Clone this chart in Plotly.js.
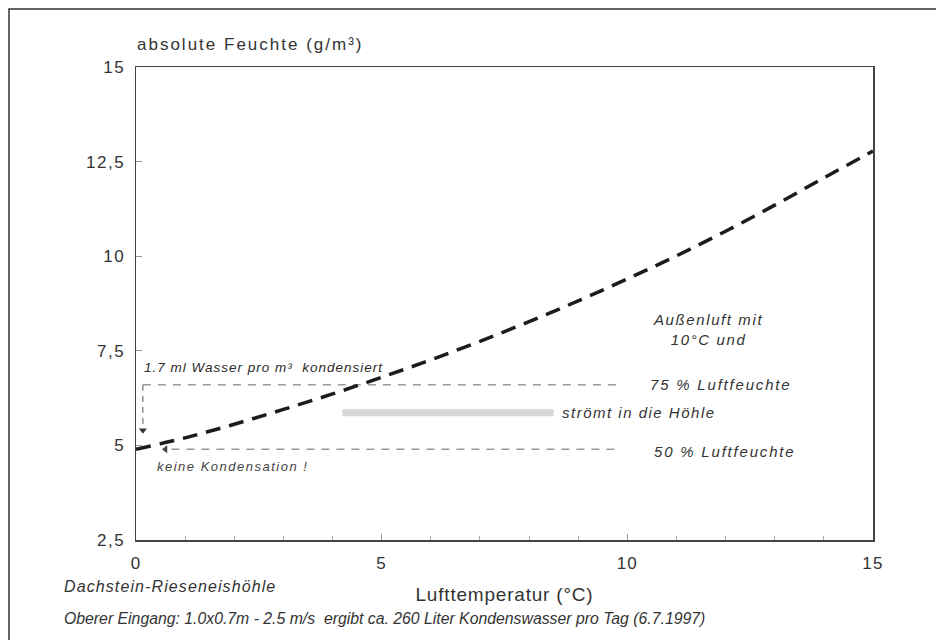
<!DOCTYPE html>
<html>
<head>
<meta charset="utf-8">
<script src="https://cdn.plot.ly/plotly-3.0.1.min.js"></script>
<style>html,body{margin:0;padding:0;background:#fff;}#chart{width:936px;height:640px;}</style>
</head>
<body>
<div id="chart"></div>
<script>
// Saturation absolute humidity (g/m³) vs air temperature (°C)
const temperature = [0,1,2,3,4,5,6,7,8,9,10,11,12,13,14,15];
const absHumidity = [4.9,5.2,5.56,5.95,6.36,6.8,7.26,7.75,8.27,8.82,9.4,10.01,10.66,11.35,12.07,12.78];

// Reference levels (outside air 10°C at 75 % and 50 % rel. humidity)
const level75 = [6.6, 6.6];
const level75X = [0.14, 9.8];
const level50 = [4.9, 4.9];
const level50X = [0.72, 9.8];
const condenseX = [0.14, 0.14];
const condenseY = [6.6, 5.45];
const arrowDownX = [0.14], arrowDownY = [5.4];
const arrowLeftX = [0.6], arrowLeftY = [4.9];
const flowX = [4.2, 8.5], flowY = [5.86, 5.86];

const xTicks = [0,5,10,15];
const xTickText = ['0','5','10','15'];
const yTicks = [2.5,5,7.5,10,12.5,15];
const yTickText = ['2,5','5','7,5','10','12,5','15'];

const sans = 'Liberation Sans, Arial, Helvetica, sans-serif';
const txt = '#333333';
const sp = (s, px) => '<span style="letter-spacing:' + px + 'px">' + s + '</span>';

const traces = [
  {x: flowX, y: flowY, mode:'lines', line:{color:'rgba(150,150,150,0.38)', width:7}, hoverinfo:'skip'},
  {x: level75X, y: level75, mode:'lines', line:{color:'#666', width:1, dash:'8px,7px'}, hoverinfo:'skip'},
  {x: level50X, y: level50, mode:'lines', line:{color:'#666', width:1, dash:'8px,7px'}, hoverinfo:'skip'},
  {x: condenseX, y: condenseY, mode:'lines', line:{color:'#555', width:1, dash:'6px,5px'}, hoverinfo:'skip'},
  {x: arrowDownX, y: arrowDownY, mode:'markers', marker:{symbol:'triangle-down', size:7, color:'#333'}, hoverinfo:'skip'},
  {x: arrowLeftX, y: arrowLeftY, mode:'markers', marker:{symbol:'triangle-left', size:7, color:'#444'}, hoverinfo:'skip'},
  {x: temperature, y: absHumidity, mode:'lines', line:{color:'#1c1c1c', width:3.5, dash:'15px,9px', shape:'spline'}, hoverinfo:'skip'}
];

const layout = {
  width:936, height:640,
  margin:{l:136, r:63, t:67, b:100},
  paper_bgcolor:'#ffffff', plot_bgcolor:'#ffffff',
  showlegend:false,
  font:{family:sans, color:txt, size:16},
  xaxis:{
    range:[0,15], tickvals:xTicks, ticktext:xTickText.map(t => sp(t, 1.2)),
    ticks:'inside', ticklen:6, tickcolor:'#999', tickwidth:1,
    minor:{dtick:1, ticks:'inside', ticklen:4, tickcolor:'#aaa'},
    showgrid:false, zeroline:false,
    showline:true, linecolor:'#444', linewidth:1.5, mirror:true,
    ticklabelstandoff:7,
    tickfont:{family:sans, size:17, color:txt},
    title:{text:sp('Lufttemperatur (°C)', 0.8), font:{family:sans, size:19, color:txt}, standoff:16}
  },
  yaxis:{
    range:[2.5,15], tickvals:yTicks, ticktext:yTickText.map(t => sp(t, 1.5)),
    ticks:'inside', ticklen:6, tickcolor:'#999', tickwidth:1,
    showgrid:false, zeroline:false,
    showline:true, linecolor:'#444', linewidth:1.5, mirror:true,
    ticklabelstandoff:6,
    tickfont:{family:sans, size:17, color:txt}
  },
  shapes:[
    {type:'rect', xref:'paper', yref:'paper', x0:-0.1723, x1:1.2, y0:-0.25, y1:1.1226,
     line:{color:'#333', width:1.5}, fillcolor:'rgba(0,0,0,0)'}
  ],
  annotations:[
    {xref:'paper', yref:'paper', x:-0.002, y:1.048, xanchor:'left', yanchor:'middle', showarrow:false,
     text:sp('absolute Feuchte (g/m³)', 2), font:{family:sans, size:17, color:txt}},
    {x:0.12, y:7.05, xanchor:'left', yanchor:'middle', showarrow:false,
     text:'<i>' + sp('1.7 ml Wasser pro m³  kondensiert', 1) + '</i>', font:{family:sans, size:13.5, color:'#2a2a2a'}},
    {x:0.39, y:4.43, xanchor:'left', yanchor:'middle', showarrow:false,
     text:'<i>' + sp('keine Kondensation !', 1.5) + '</i>', font:{family:sans, size:13, color:'#444'}},
    {x:10.42, y:6.6, xanchor:'left', yanchor:'middle', showarrow:false,
     text:'<i>' + sp('75 % Luftfeuchte', 1.8) + '</i>', font:{family:sans, size:15, color:txt}},
    {x:8.63, y:5.86, xanchor:'left', yanchor:'middle', showarrow:false,
     text:'<i>' + sp('strömt in die Höhle', 1.5) + '</i>', font:{family:sans, size:15, color:txt}},
    {x:10.5, y:4.83, xanchor:'left', yanchor:'middle', showarrow:false,
     text:'<i>' + sp('50 % Luftfeuchte', 1.8) + '</i>', font:{family:sans, size:15, color:txt}},
    {x:11.64, y:8.05, xanchor:'center', yanchor:'middle', showarrow:false,
     text:'<i>' + sp('Außenluft mit', 1.6) + '<br>' + sp('10°C und', 1.6) + '</i>', font:{family:sans, size:15, color:txt}},
    {xref:'paper', yref:'paper', x:-0.1, y:-0.099, xanchor:'left', yanchor:'middle', showarrow:false,
     text:'<i>' + sp('Dachstein-Rieseneishöhle', 1.1) + '</i>', font:{family:sans, size:16, color:txt}},
    {xref:'paper', yref:'paper', x:-0.1, y:-0.167, xanchor:'left', yanchor:'middle', showarrow:false,
     text:'<i>Oberer Eingang: 1.0x0.7m - 2.5 m/s  ergibt ca. 260 Liter Kondenswasser pro Tag (6.7.1997)</i>', font:{family:sans, size:15.8, color:txt}}
  ]
};

Plotly.newPlot('chart', traces, layout, {displayModeBar:false, staticPlot:true});
</script>
</body>
</html>
